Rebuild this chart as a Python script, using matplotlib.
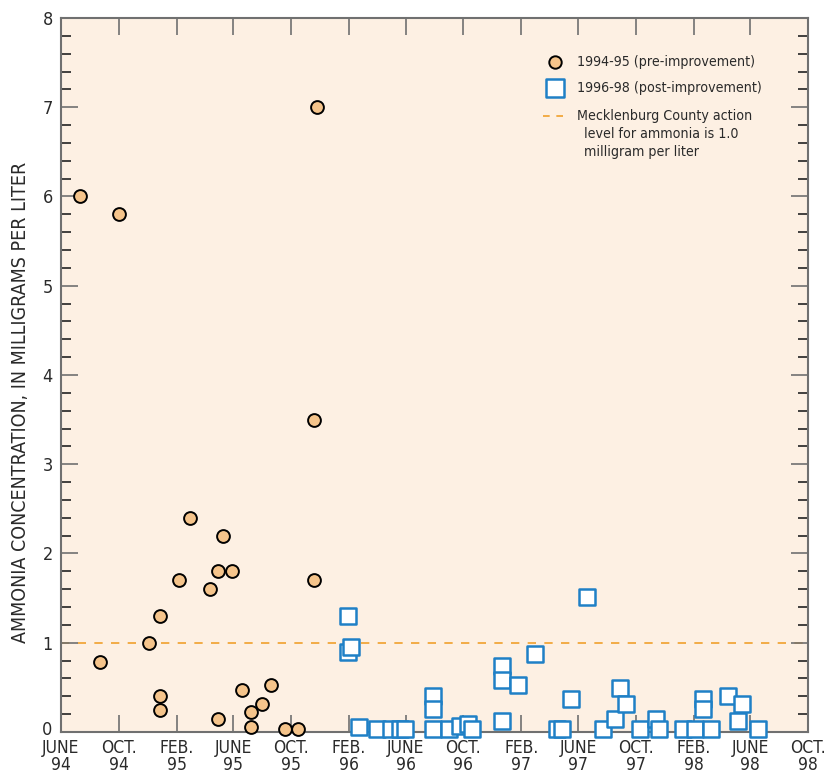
import numpy as np
import pandas as pd
import matplotlib
matplotlib.use("Agg")
import matplotlib.pyplot as plt
import matplotlib.transforms as mtransforms

plt.rcParams['font.family'] = ['DejaVu Sans']
plt.rcParams['font.stretch'] = 'condensed'

# pre-improvement samples, 1994-95
pre_dates = ['1994-07-11', '1994-08-22', '1994-10-02', '1994-12-04', '1994-12-27',
             '1994-12-27', '1994-12-27', '1995-02-06', '1995-03-01', '1995-04-13',
             '1995-04-30', '1995-04-30', '1995-05-10', '1995-05-29', '1995-06-19',
             '1995-07-08', '1995-07-08', '1995-08-01', '1995-08-20', '1995-09-18',
             '1995-10-16', '1995-11-19', '1995-11-20', '1995-11-25']
pre_vals = [6.0, 0.78, 5.8, 1.0, 1.3,
            0.4, 0.25, 1.7, 2.4, 1.6,
            1.8, 0.14, 2.2, 1.8, 0.47,
            0.22, 0.06, 0.31, 0.53, 0.03,
            0.03, 3.5, 1.7, 7.0]

# post-improvement samples, 1996-98
post_dates = ['1996-01-30', '1996-01-30', '1996-02-05', '1996-02-22', '1996-04-01',
              '1996-05-01', '1996-05-19', '1996-05-30', '1996-07-28', '1996-07-28',
              '1996-07-28', '1996-08-31', '1996-09-23', '1996-10-10', '1996-10-19',
              '1996-12-21', '1996-12-21', '1996-12-21', '1997-01-24', '1997-03-01',
              '1997-04-17', '1997-04-27', '1997-05-16', '1997-06-19', '1997-07-23',
              '1997-08-18', '1997-08-29', '1997-09-10', '1997-10-10', '1997-11-13',
              '1997-11-19', '1998-01-09', '1998-02-03', '1998-02-20', '1998-02-20',
              '1998-03-09', '1998-04-14', '1998-05-06', '1998-05-14', '1998-06-17']
post_vals = [1.3, 0.9, 0.95, 0.06, 0.03,
             0.03, 0.03, 0.03, 0.4, 0.26,
             0.03, 0.03, 0.07, 0.09, 0.03,
             0.74, 0.58, 0.12, 0.53, 0.87,
             0.03, 0.03, 0.37, 1.51, 0.03,
             0.15, 0.49, 0.31, 0.03, 0.15,
             0.03, 0.03, 0.03, 0.37, 0.26,
             0.03, 0.4, 0.12, 0.31, 0.03]

action_level = 1.0

tick_dates = ['1994-06-01', '1994-10-01', '1995-02-01', '1995-06-01', '1995-10-01',
              '1996-02-01', '1996-06-01', '1996-10-01', '1997-02-01', '1997-06-01',
              '1997-10-01', '1998-02-01', '1998-06-01', '1998-10-01']
tick_labels = ['JUNE\n94', 'OCT.\n94', 'FEB.\n95', 'JUNE\n95', 'OCT.\n95',
               'FEB.\n96', 'JUNE\n96', 'OCT.\n96', 'FEB.\n97', 'JUNE\n97',
               'OCT.\n97', 'FEB.\n98', 'JUNE\n98', 'OCT.\n98']

bg = '#fdf0e3'
circ_fill = '#f5c48b'
sq_edge = '#1f80c6'
dash_col = '#f0a02c'
axis_col = '#707070'
txt_col = '#2a2a2a'

fig = plt.figure(figsize=(8.26, 7.75), dpi=100)
ax = fig.add_axes([0.0738, 0.0555, 0.9042, 0.9213])
ax.set_facecolor(bg)

ax.axhline(action_level, color=dash_col, lw=1.2, ls=(0, (5, 5)), zorder=1)

ax.scatter(pd.to_datetime(post_dates), post_vals, marker='s', s=135,
           facecolor='white', edgecolor=sq_edge, linewidth=1.8, zorder=3, clip_on=False)
ax.scatter(pd.to_datetime(pre_dates), pre_vals, marker='o', s=85,
           facecolor=circ_fill, edgecolor='black', linewidth=1.4, zorder=4, clip_on=False)

ax.set_xlim(pd.Timestamp(tick_dates[0]), pd.Timestamp(tick_dates[-1]))
ax.set_ylim(0, 8)
ax.set_xticks(pd.to_datetime(tick_dates))
ax.set_xticklabels(tick_labels, fontsize=12.5, color=txt_col, linespacing=0.95)
ax.set_yticks(np.arange(0, 9, 1))
ax.set_yticks(np.arange(0, 8.01, 0.2), minor=True)
ax.tick_params(axis='y', which='major', direction='in', length=12, width=1.2,
               labelsize=13, left=True, right=True, color=axis_col, labelcolor=txt_col, pad=6)
ax.tick_params(axis='y', which='minor', direction='in', length=7, width=1.2,
               left=True, right=True, color='#222222')
ax.tick_params(axis='x', which='major', direction='in', length=12, width=1.2,
               top=True, bottom=True, color=axis_col, pad=5)
for s in ax.spines.values():
    s.set_color(axis_col)
    s.set_linewidth(1.5)

# nudge the "0" label up a little so it clears the date labels
zero_lbl = ax.get_yticklabels()[0]
zero_lbl.set_transform(zero_lbl.get_transform() +
                       mtransforms.ScaledTranslation(0, 3 / 72, fig.dpi_scale_trans))

ax.set_ylabel('AMMONIA CONCENTRATION, IN MILLIGRAMS PER LITER', fontsize=14,
              color=txt_col)
ax.yaxis.set_label_coords(-0.041, 0.462)

# legend drawn by hand in axes coordinates
tr = ax.transAxes
ax.scatter([0.661], [0.938], marker='o', s=80, facecolor=circ_fill, edgecolor='black',
           linewidth=1.4, transform=tr, zorder=5)
ax.scatter([0.661], [0.902], marker='s', s=150, facecolor='white', edgecolor=sq_edge,
           linewidth=1.8, transform=tr, zorder=5)
ax.plot([0.645, 0.676], [0.863, 0.863], color=dash_col, lw=1.2, ls=(0, (4, 4)),
        transform=tr)
leg_kw = dict(transform=tr, fontsize=10.2, color=txt_col, va='center', ha='left')
ax.text(0.691, 0.938, '1994-95 (pre-improvement)', **leg_kw)
ax.text(0.691, 0.902, '1996-98 (post-improvement)', **leg_kw)
ax.text(0.691, 0.863, 'Mecklenburg County action', **leg_kw)
ax.text(0.700, 0.8375, 'level for ammonia is 1.0', **leg_kw)
ax.text(0.700, 0.812, 'milligram per liter', **leg_kw)

fig.savefig('out.png', dpi=100, facecolor='white')
